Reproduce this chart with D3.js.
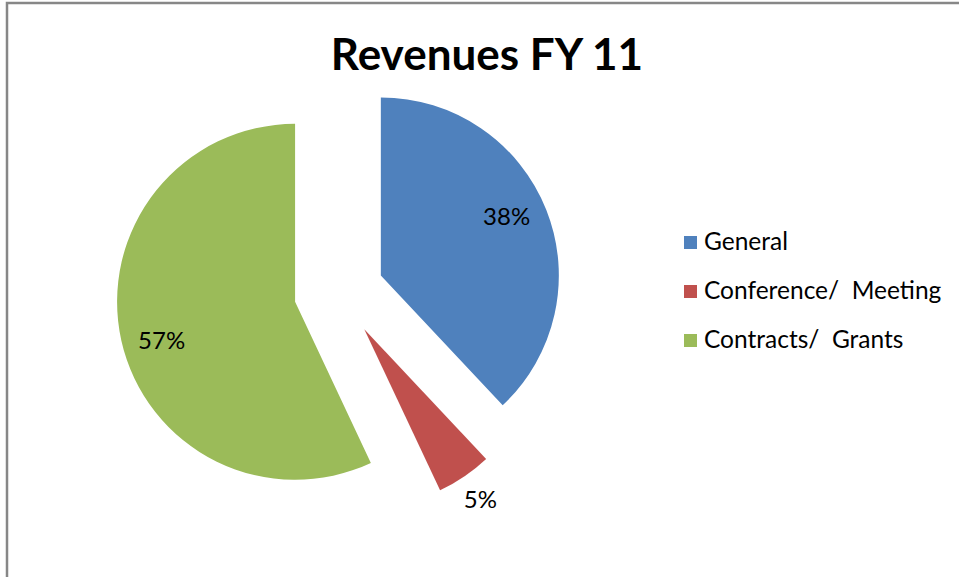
<!DOCTYPE html>
<html>
<head>
<meta charset="utf-8">
<script src="https://cdn.jsdelivr.net/npm/d3@7"></script>
<style>
  body { margin: 0; background: #fff; }
  svg text { font-family: Lato, "Open Sans", sans-serif; white-space: pre; }
</style>
</head>
<body>
<svg></svg>
<script>
var categories = ["General", "Conference/  Meeting", "Contracts/  Grants"];
var shares = [38, 5, 57];
var colors = ["#4F81BD", "#C0504D", "#9BBB59"];

var w = 959, h = 577;
var svg = d3.select("svg").attr("width", w).attr("height", h);

// chart frame (only top and left edges are visible in the crop)
svg.append("rect")
  .attr("x", 7).attr("y", 3)
  .attr("width", w + 20).attr("height", h + 20)
  .attr("fill", "none")
  .attr("stroke", "#878787")
  .attr("stroke-width", 2.5);

svg.append("text")
  .attr("x", 487).attr("y", 70)
  .attr("text-anchor", "middle")
  .attr("font-size", 44)
  .attr("font-weight", "bold")
  .attr("fill", "#000")
  .text("Revenues FY 11");

var cx = 339, cy = 292, r = 178, explode = 45;

var pie = d3.pie().sort(null).value(function(d) { return d; });
var arcs = pie(shares);
var arc = d3.arc().innerRadius(0).outerRadius(r);

var g = svg.append("g").attr("transform", "translate(" + cx + "," + cy + ")");

var slice = g.selectAll("g.slice")
  .data(arcs)
  .enter()
  .append("g")
  .attr("class", "slice")
  .attr("transform", function(d) {
      var a = (d.startAngle + d.endAngle) / 2;
      return "translate(" + (explode * Math.sin(a)) + "," + (-explode * Math.cos(a)) + ")";
  });

slice.append("path")
  .attr("d", arc)
  .attr("fill", function(d, i) { return colors[i]; });

slice.append("text")
  .attr("transform", function(d) {
      var outside = d.data < 10; // small slice label sits outside
      // inside labels sit a little before the slice middle, like excel's best fit
      var a = (d.startAngle + d.endAngle) / 2 - (outside ? 0 : 0.06);
      var k = outside ? 1.16 : 0.78;
      return "translate(" + (k * r * Math.sin(a)) + "," + (-k * r * Math.cos(a)) + ")";
  })
  .attr("dy", "0.35em")
  .attr("text-anchor", "middle")
  .attr("font-size", 24)
  .attr("fill", "#000")
  .text(function(d) { return d.data + "%"; });

var legend = svg.append("g").attr("transform", "translate(684,0)");
var row = legend.selectAll("g")
  .data(categories)
  .enter()
  .append("g")
  .attr("transform", function(d, i) { return "translate(0," + (250 + i * 49) + ")"; });

row.append("rect")
  .attr("x", 0).attr("y", -14)
  .attr("width", 13).attr("height", 13)
  .attr("fill", function(d, i) { return colors[i]; });

row.append("text")
  .attr("x", 20).attr("y", 0)
  .attr("font-size", 24.5)
  .attr("fill", "#000")
  .text(function(d) { return d; });
</script>
</body>
</html>
